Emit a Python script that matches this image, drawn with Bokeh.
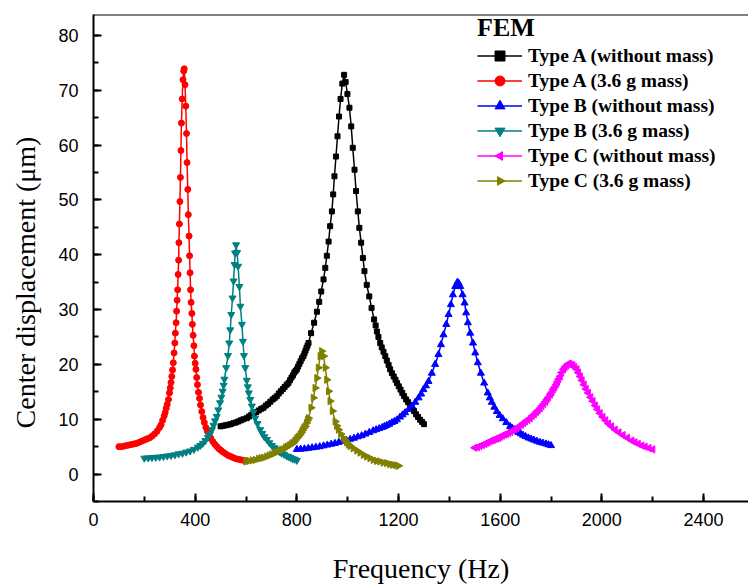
import math
from bokeh.plotting import figure
from bokeh.models import Range1d, SingleIntervalTicker, Span, Legend, LegendItem
from bokeh.embed import file_html
from bokeh.resources import INLINE

# ---------------- data ----------------
# Type A (without mass) - black squares
freq_a_free = [500, 510, 520, 530, 540, 551, 560, 570, 580, 590,
               603, 612, 621, 630, 640, 650, 660, 669, 678, 687,
               696, 705, 713, 721, 729, 737, 745, 752, 760, 767,
               773, 779, 785, 790, 795, 800, 805, 810, 815, 820,
               826, 830, 834, 838, 842, 846, 856, 868, 879, 888,
               896, 905, 912, 918, 925, 931, 938, 943, 948, 954,
               960, 966, 972, 979, 986,
               992, 999, 1007, 1014, 1020, 1027, 1033, 1040, 1046, 1053,
               1060, 1066, 1075, 1085, 1094, 1104, 1110, 1115, 1121, 1128,
               1134, 1141, 1148, 1154, 1161, 1167, 1174, 1181, 1188, 1194,
               1201, 1208, 1215, 1222, 1230, 1238, 1246, 1253, 1261, 1269,
               1277, 1285, 1293, 1300]
disp_a_free = [8.7, 8.8, 8.9, 9.0, 9.1, 9.3, 9.4, 9.6, 9.8, 10.0,
               10.2, 10.5, 10.8, 11.0, 11.3, 11.6, 11.9, 12.1, 12.5, 12.8,
               13.2, 13.6, 13.9, 14.2, 14.7, 15.1, 15.5, 15.9, 16.3, 16.6,
               17.1, 17.6, 18.0, 18.5, 18.8, 19.1, 19.6, 20.1, 20.6, 21.1,
               21.5, 22.0, 22.5, 23.0, 23.4, 23.9, 25.7, 27.6, 29.6, 31.4,
               33.3, 35.5, 37.6, 39.8, 42.4, 45.2, 47.9, 51.0, 54.3, 57.9,
               61.6, 65.2, 68.4, 71.2, 72.8,
               71.5, 69.3, 66.8, 63.4, 59.5, 55.5, 51.6, 47.9, 44.9, 42.2,
               39.4, 37.0, 34.5, 32.4, 30.3, 28.2, 27.1, 26.0, 25.0, 23.9,
               23.1, 22.3, 21.5, 20.7, 19.9, 19.1, 18.4, 17.8, 17.2, 16.6,
               16.0, 15.4, 14.8, 14.2, 13.6, 13.1, 12.6, 12.1, 11.5, 10.9,
               10.4, 9.9, 9.5, 9.1]

# Type A (3.6 g mass) - red circles
freq_a_mass = [100, 110, 120, 130, 140, 150, 160, 170, 180, 190,
               200, 210, 220, 230, 240, 250, 260,
               266, 272, 278, 282, 286, 290, 295, 299,
               302, 305, 308, 311, 314, 317, 320, 322, 325, 327,
               329, 331, 333, 335, 336, 338, 340, 342, 344, 346,
               349, 352, 355, 357,
               360, 363, 366, 368, 371, 373, 376, 378, 380, 382,
               384, 387, 389, 392, 395, 397, 400, 403, 406, 409,
               413, 417, 421, 426, 431, 436, 442, 448, 455, 462,
               470, 478, 486, 494, 502, 510, 520, 530, 540, 550,
               560, 570, 580, 590, 600]
disp_a_mass = [5.0, 5.0, 5.1, 5.2, 5.3, 5.4, 5.5, 5.6, 5.8, 6.0,
               6.2, 6.4, 6.6, 6.9, 7.3, 7.8, 8.5,
               9.0, 9.8, 10.6, 11.2, 12.0, 12.7, 13.6, 14.8,
               15.7, 16.7, 17.8, 19.0, 20.3, 22.1, 23.9, 25.7, 27.6, 29.7,
               31.7, 33.6, 36.4, 39.0, 42.2, 45.6, 49.7, 54.1, 59.0, 64.0,
               68.4, 71.9, 73.5, 73.9,
               71.0, 67.1, 62.1, 56.8, 51.9, 47.3, 43.4, 39.8, 36.7, 33.6,
               31.3, 29.3, 27.3, 25.3, 23.4, 21.5, 20.2, 19.1, 17.6, 16.3,
               14.9, 13.8, 12.6, 11.4, 10.3, 9.4, 8.5, 7.8, 7.1, 6.5,
               5.9, 5.4, 5.0, 4.6, 4.3, 4.0, 3.7, 3.4, 3.2, 3.0,
               2.8, 2.7, 2.6, 2.5, 2.4]

# Type B (without mass) - blue triangles
freq_b_free = [800, 815, 830, 845, 860, 875, 890, 905, 920, 935,
               950, 965, 980, 995, 1010, 1025, 1040, 1055, 1070, 1085,
               1100, 1112, 1124, 1136, 1145, 1154, 1164, 1174, 1184, 1194,
               1206, 1216, 1226, 1240, 1253, 1266, 1279, 1289, 1298, 1308,
               1318, 1331, 1344, 1357, 1367, 1377, 1388, 1397, 1406, 1414,
               1423, 1432,
               1437, 1443, 1452, 1460, 1466, 1473, 1482, 1493, 1502, 1512,
               1524, 1537, 1551, 1559, 1567, 1577, 1587, 1598, 1610, 1624,
               1639, 1647, 1655, 1664, 1672, 1681, 1690, 1700, 1711, 1722,
               1733, 1745, 1757, 1768, 1780, 1790, 1800]
disp_b_free = [4.5, 4.55, 4.6, 4.7, 4.8, 4.9, 5.0, 5.15, 5.3, 5.45,
               5.6, 5.8, 6.0, 6.15, 6.35, 6.55, 6.8, 7.0, 7.3, 7.6,
               7.9, 8.1, 8.3, 8.5, 8.7, 8.9, 9.1, 9.4, 9.6, 9.9,
               10.4, 10.8, 11.2, 11.8, 12.4, 13.1, 13.9, 14.6, 15.4, 16.1,
               16.9, 18.4, 20.0, 21.8, 23.6, 25.4, 27.3, 29.1, 30.9, 32.7,
               34.2, 35.0,
               34.8, 34.2, 32.7, 31.2, 29.4, 27.6, 25.7, 23.9, 22.1, 20.3,
               18.4, 16.6, 14.8, 13.9, 13.1, 12.2, 11.4, 10.7, 10.1, 9.4,
               8.7, 8.4, 8.1, 7.85, 7.6, 7.35, 7.1, 6.85, 6.6, 6.4,
               6.2, 6.0, 5.8, 5.65, 5.5, 5.35, 5.2]

# Type B (3.6 g mass) - teal inverted triangles
freq_b_mass = [200, 215, 230, 245, 260, 275, 290, 305, 320, 335,
               350, 365, 380, 395, 410, 420, 430, 440, 450, 458,
               466, 472, 478, 485, 491, 498, 503, 508, 512, 515,
               522, 529, 534, 538, 542, 547, 551, 555, 557, 561,
               565, 569, 574, 578, 584, 588, 592, 597, 603, 607,
               611, 617, 623, 629, 636, 645, 656, 664, 672, 682,
               692, 702, 712, 721, 731, 740, 750, 760, 767, 775,
               783, 791, 800]
disp_b_mass = [2.9, 2.95, 3.0, 3.05, 3.1, 3.2, 3.3, 3.4, 3.5, 3.7,
               3.8, 4.0, 4.2, 4.5, 4.9, 5.2, 5.6, 6.1, 6.7, 7.3,
               8.1, 8.9, 9.7, 10.5, 11.7, 13.0, 14.0, 15.1, 16.2, 17.3,
               19.4, 21.6, 23.9, 26.3, 29.1, 32.1, 35.2, 38.2, 40.3, 41.8,
               40.4, 37.9, 34.2, 30.6, 27.3, 24.2, 21.6, 19.4, 17.1, 15.9,
               14.8, 13.6, 12.4, 11.3, 10.2, 9.2, 8.1, 7.4, 6.8, 6.3,
               5.7, 5.2, 4.8, 4.5, 4.1, 3.8, 3.6, 3.3, 3.2, 3.0,
               2.8, 2.7, 2.5]

# Type C (without mass) - magenta left triangles
freq_c_free = [1500, 1510, 1520, 1530, 1540, 1548, 1556, 1564, 1572, 1580,
               1587, 1593, 1600, 1608, 1616, 1624, 1633, 1641, 1650, 1658,
               1666, 1674, 1683, 1692, 1700, 1709, 1718, 1726, 1734, 1742,
               1749, 1757, 1764, 1771, 1778, 1784, 1790, 1797, 1803, 1808,
               1814, 1820, 1825, 1830, 1836, 1842, 1849, 1855, 1862, 1868,
               1873,
               1880, 1886, 1893, 1902, 1908, 1915, 1922, 1930, 1938, 1947,
               1956, 1965, 1974, 1983, 1993, 2004, 2015, 2026, 2038, 2052,
               2067, 2083, 2100, 2118, 2130, 2143, 2157, 2170, 2185, 2200]
disp_c_free = [4.8, 4.9, 5.1, 5.3, 5.5, 5.7, 5.9, 6.1, 6.2, 6.4,
               6.5, 6.6, 6.8, 7.0, 7.2, 7.3, 7.5, 7.7, 8.0, 8.2,
               8.4, 8.7, 9.0, 9.3, 9.6, 9.9, 10.2, 10.6, 10.9, 11.3,
               11.6, 12.0, 12.4, 12.8, 13.2, 13.6, 14.0, 14.5, 14.9, 15.4,
               15.8, 16.3, 16.8, 17.3, 17.8, 18.5, 19.1, 19.5, 19.8, 20.1,
               20.1,
               19.9, 19.8, 19.5, 19.1, 18.5, 17.8, 17.1, 16.3, 15.5, 14.8,
               14.0, 13.3, 12.5, 11.8, 11.1, 10.4, 9.8, 9.2, 8.7, 8.1,
               7.6, 7.1, 6.6, 6.1, 5.8, 5.5, 5.2, 5.0, 4.75, 4.5]

# Type C (3.6 g mass) - olive right triangles
freq_c_mass = [600, 612, 625, 637, 650, 660, 670, 682, 692, 702,
               712, 722, 732, 740, 747, 755, 762, 770, 777, 782,
               787, 793, 800, 806, 813, 818, 823, 828, 833, 838,
               842, 846, 856, 865, 872, 879, 885, 892, 898,
               905, 912, 918, 925, 931, 940, 951, 957, 964, 973,
               983, 990, 996, 1003, 1010, 1022, 1036, 1049, 1062, 1075,
               1088, 1101, 1114, 1127, 1140, 1154, 1166, 1178, 1190, 1200]
disp_c_mass = [2.3, 2.4, 2.5, 2.6, 2.8, 2.9, 3.0, 3.2, 3.4, 3.6,
               3.8, 4.0, 4.2, 4.4, 4.5, 4.8, 5.0, 5.2, 5.4, 5.6,
               5.7, 6.1, 6.5, 6.8, 7.2, 7.6, 8.0, 8.4, 8.7, 9.3,
               9.8, 10.2, 12.1, 13.9, 15.7, 17.5, 19.4, 21.5, 22.4,
               21.5, 19.4, 17.2, 15.1, 13.3, 11.5, 9.6, 8.8, 8.1, 7.3,
               6.6, 6.2, 5.8, 5.4, 5.1, 4.7, 4.3, 3.9, 3.5, 3.2,
               2.9, 2.6, 2.4, 2.3, 2.1, 2.0, 1.8, 1.7, 1.6, 1.5]

series_labels = ["Type A (without mass)", "Type A (3.6 g mass)",
                 "Type B (without mass)", "Type B (3.6 g mass)",
                 "Type C (without mass)", "Type C (3.6 g mass)"]
x_ticks_interval = 400
y_ticks_interval = 10

# ---------------- figure ----------------
Y_END = 83.8
p = figure(width=748, height=586, output_backend="svg", toolbar_location=None,
           x_range=Range1d(0, 2577), y_range=Range1d(-5, Y_END),
           min_border_left=93, min_border_right=0, min_border_top=14,
           min_border_bottom=85, background_fill_color="white",
           border_fill_color="white")
p.outline_line_color = None
p.xgrid.visible = False
p.ygrid.visible = False

p.xaxis.ticker = SingleIntervalTicker(interval=x_ticks_interval, num_minor_ticks=2)
p.yaxis.ticker = SingleIntervalTicker(interval=y_ticks_interval, num_minor_ticks=2)
for ax in (p.xaxis, p.yaxis):
    ax.axis_line_width = 2
    ax.axis_line_color = "black"
    ax.major_tick_in = 8
    ax.major_tick_out = 0
    ax.minor_tick_in = 5
    ax.minor_tick_out = 0
    ax.major_tick_line_width = 2
    ax.minor_tick_line_width = 2
    ax.major_label_text_font = "Liberation Sans"
    ax.major_label_text_font_size = "18px"
    ax.major_label_text_color = "black"
    ax.axis_label_text_font = "Liberation Serif"
    ax.axis_label_text_font_style = "normal"
    ax.axis_label_text_font_size = "28px"
    ax.axis_label_text_color = "black"

p.xaxis.axis_label = "Frequency (Hz)"
# trailing no-break spaces push the (rotated) title slightly down, as in the original
p.yaxis.axis_label = "Center displacement (\u03bcm)" + "\u00a0" * 7
p.xaxis.major_label_standoff = 11
p.yaxis.major_label_standoff = 15
p.xaxis.axis_label_standoff = 24
p.yaxis.axis_label_standoff = 14

p.add_layout(Span(location=Y_END, dimension="width", line_color="black", line_width=2))

specs = [
    (freq_a_free, disp_a_free, "black", "square", None, 5),
    (freq_a_mass, disp_a_mass, "#ff0000", "circle", None, 6),
    (freq_b_free, disp_b_free, "#0000ff", "triangle", None, 7),
    (freq_b_mass, disp_b_mass, "#008080", "inverted_triangle", None, 7),
    (freq_c_free, disp_c_free, "#ff00ff", "ngon", math.pi / 2, 7),
    (freq_c_mass, disp_c_mass, "#808000", "ngon", -math.pi / 2, 7),
]

items = []
for (fx, dy, col, mk, ang, sz), lab in zip(specs, series_labels):
    lr = p.line(fx, dy, line_color=col, line_width=1.5)
    sr = None
    if mk == "ngon":
        try:
            sr = p.ngon(x=fx, y=dy, radius=4.2, radius_units="screen", n=3, angle=ang,
                        fill_color=col, line_color=col, line_width=1)
        except Exception:
            sr = None
        if sr is None:
            sr = p.scatter(x=fx, y=dy, marker="triangle", size=sz,
                           fill_color=col, line_color=col, line_width=1)
    else:
        sr = p.scatter(x=fx, y=dy, marker=mk, size=sz,
                       fill_color=col, line_color=col, line_width=1)
    items.append(LegendItem(label=lab, renderers=[lr, sr]))

legend = Legend(items=items, location=(384, 308), title="FEM")
legend.title_text_font = "Liberation Serif"
legend.title_text_font_style = "bold"
legend.title_text_font_size = "26px"
legend.title_text_color = "black"
legend.title_standoff = 0
legend.label_text_font = "Liberation Serif"
legend.label_text_font_style = "bold"
legend.label_text_font_size = "19.5px"
legend.label_text_color = "black"
legend.glyph_width = 45
legend.glyph_height = 25
legend.label_height = 25
legend.label_standoff = 6
legend.spacing = 0
legend.padding = 0
legend.margin = 0
legend.border_line_color = None
legend.background_fill_alpha = 0
p.add_layout(legend)

open("out.html", "w").write(file_html(p, INLINE))
